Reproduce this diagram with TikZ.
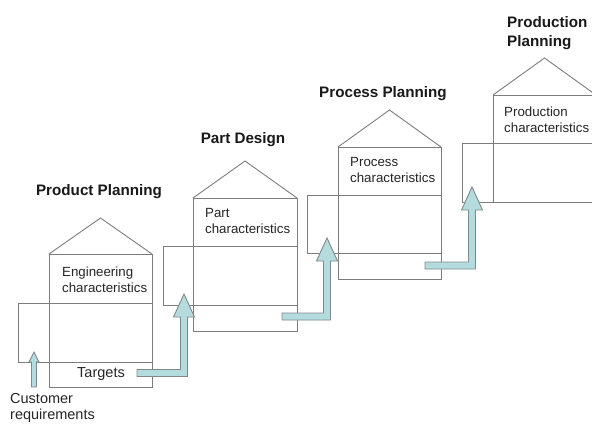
\documentclass[tikz,border=0pt]{standalone}
\usepackage{fontspec}
\setmainfont{Liberation Sans}
\definecolor{linegray}{RGB}{125,125,125}
\definecolor{arrowfill}{RGB}{180,220,223}
\definecolor{arrowline}{RGB}{128,136,136}
\tikzset{
  houseline/.style={draw=linegray, line width=0.9pt},
  blockarrow/.style={fill=arrowfill, draw=arrowline, line width=0.9pt, line join=miter},
  chartext/.style={font=\fontsize{13.3}{16}\selectfont, align=left, inner sep=0pt, text=black!85},
  titletext/.style={font=\fontsize{15.2}{19}\selectfont\bfseries, align=left, inner sep=0pt, text=black!90},
  plaintext/.style={font=\fontsize{14.5}{16.5}\selectfont, align=left, inner sep=0pt, text=black!85}
}
% L, R, apexY, roofY, y1, y2, bottom, boxL
\newcommand{\qfdhouse}[8]{%
  \draw[houseline] (#1,#4) -- ({(#1+#2)/2},#3) -- (#2,#4);
  \draw[houseline] (#1,#4) rectangle (#2,#7);
  \draw[houseline] (#8,#5) -- (#2,#5);
  \draw[houseline] (#8,#6) -- (#2,#6);
  \draw[houseline] (#8,#5) -- (#8,#6);
}
% x0, y, xc, ytip
\newcommand{\elbowarrow}[4]{%
  \draw[blockarrow]
   (#1,#2-3.5) -- (#3-3.5,#2-3.5) -- (#3-3.5,#4+23) -- (#3-10.5,#4+23) -- (#3,#4)
   -- (#3+10.5,#4+23) -- (#3+3.5,#4+23) -- (#3+3.5,#2+3.5) -- (#1,#2+3.5) -- cycle;
}
\begin{document}
\begin{tikzpicture}[x=1pt,y=-1pt]
  \clip (0,0) rectangle (592,424);
  \fill[white] (0,0) rectangle (592,424);
  % houses
  \qfdhouse{49}{152}{218}{254}{303}{362}{387}{18}
  \qfdhouse{193}{297}{161}{198}{246}{305}{331}{163}
  \qfdhouse{338}{441}{110}{147}{195}{253}{279}{307}
  \qfdhouse{493}{596}{58}{95}{143}{202}{202}{462}
  % titles
  \node[titletext, anchor=base] (t1) at (99,195) {Product Planning};
  \node[titletext, anchor=base] (t2) at (243,143) {Part Design};
  \node[titletext, anchor=base] (t3) at (383,97) {Process Planning};
  \node[titletext, anchor=north west] (t4) at (507,16) {Production\\Planning};
  % room texts
  \node[chartext, anchor=north west] (c1) at (62,266.5) {Engineering\\characteristics};
  \node[chartext, anchor=north west] (c2) at (205,208) {Part\\characteristics};
  \node[chartext, anchor=north west] (c3) at (350,157) {Process\\characteristics};
  \node[chartext, anchor=north west] (c4) at (504,106.5) {Production\\characteristics};
  \node[plaintext, anchor=base] (tg) at (101,377) {Targets};
  \node[plaintext, anchor=north west] (cr) at (10,393) {Customer\\requirements};
  % arrows
  \draw[blockarrow] (31.5,387) -- (31.5,362) -- (29,362) -- (34,352) -- (39,362) -- (36.5,362) -- (36.5,387) -- cycle;
  \elbowarrow{137}{373}{184}{294}
  \elbowarrow{282}{316.5}{327}{238}
  \elbowarrow{425}{265.5}{472}{187}
\end{tikzpicture}
\end{document}
